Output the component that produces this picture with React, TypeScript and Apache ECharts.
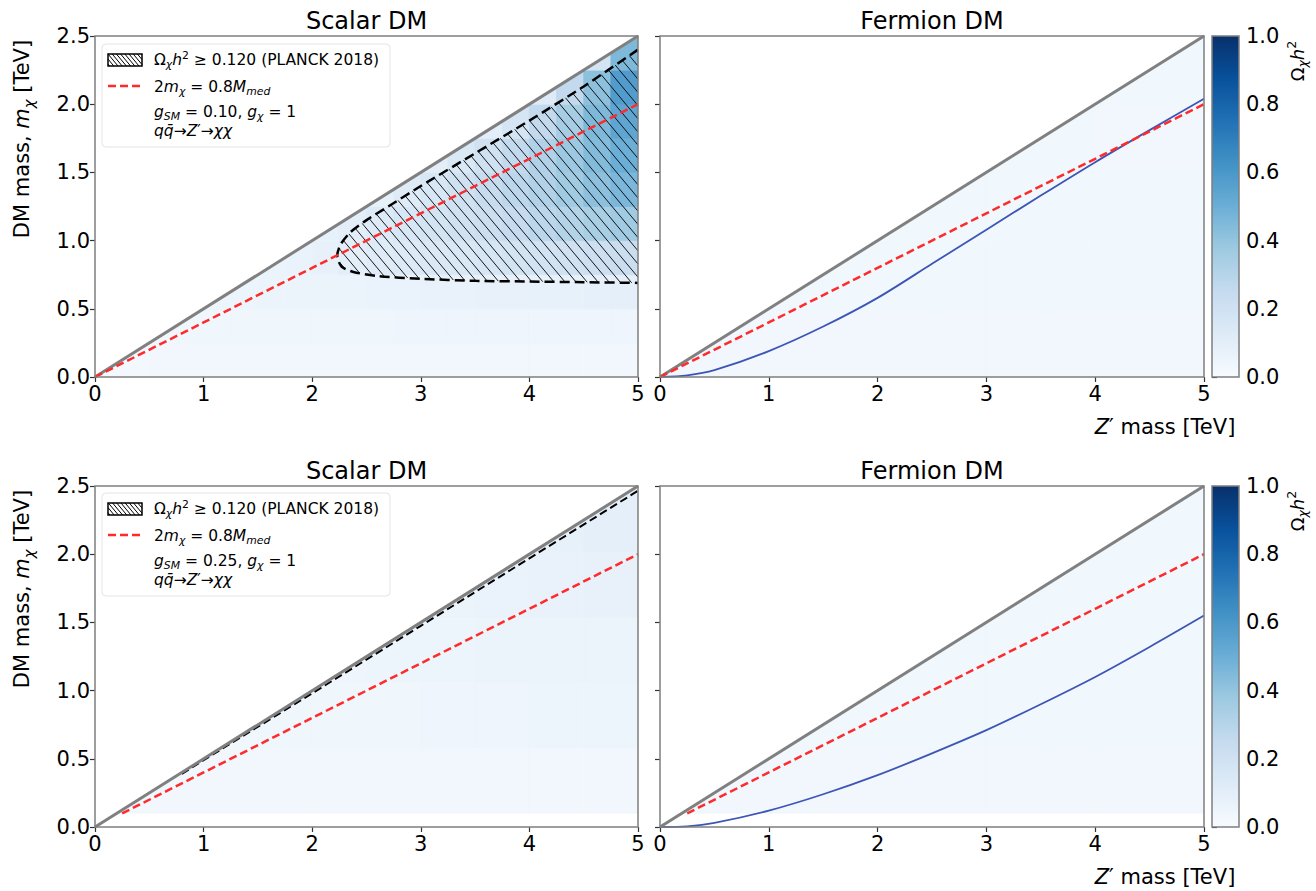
import React, { useEffect, useRef } from "react";
import * as echarts from "echarts";

// ---------------- data ----------------
const X_MIN = 0, X_MAX = 5, Y_MIN = 0, Y_MAX = 2.5;
const X_TICK_STEP = 1, Y_TICK_STEP = 0.5, CB_TICK_STEP = 0.2;

const TITLES = ["Scalar DM", "Fermion DM", "Scalar DM", "Fermion DM"];

// kinematic limit m_chi = M_med / 2 (grey)
const DIAG_LINE = [[0, 0], [5, 2.5]];
// 2 m_chi = 0.8 M_med (red dashed)
const RED_TOP = [[0, 0], [1, 0.4], [2, 0.8], [3, 1.2], [4, 1.6], [5, 2.0]];
const RED_BOTTOM = [[0.25, 0.1], [1, 0.4], [2, 0.8], [3, 1.2], [4, 1.6], [5, 2.0]];

// relic contour (black dashed) – top-left, g_SM = 0.10
const CONTOUR_TL = [
  [5.0, 2.40], [4.5, 2.13], [4.0, 1.88], [3.5, 1.64], [3.0, 1.40], [2.7, 1.25],
  [2.5, 1.15], [2.35, 1.06], [2.26, 0.97], [2.23, 0.89], [2.27, 0.81], [2.38, 0.77],
  [2.6, 0.74], [3.0, 0.72], [3.5, 0.705], [4.0, 0.70], [4.5, 0.695], [5.0, 0.69],
];
// relic contour – bottom-left, g_SM = 0.25
const CONTOUR_BL = [[0.8, 0.39], [1, 0.49], [2, 0.98], [3, 1.475], [4, 1.97], [5, 2.465]];

// blue curves (fermion panels)
const BLUE_X = [0, 0.25, 0.5, 1, 1.5, 2, 2.5, 3, 3.5, 4, 4.5, 5];
const BLUE_TR_Y = [0, 0.012, 0.05, 0.19, 0.37, 0.58, 0.83, 1.08, 1.33, 1.575, 1.81, 2.04];
const BLUE_BR_Y = [0, 0.005, 0.03, 0.12, 0.24, 0.38, 0.54, 0.71, 0.90, 1.10, 1.32, 1.55];

// Omega h^2 maps (rows from bottom to top)
const TL_HEAT = [
  [0.025, 0.025, 0.028, 0.028, 0.03, 0.03, 0.03, 0.03, 0.03, 0.03, 0.032, 0.032, 0.032, 0.032, 0.032, 0.032, 0.032, 0.032, 0.032, 0.032],
  [null, 0.035, 0.035, 0.04, 0.04, 0.04, 0.04, 0.04, 0.04, 0.042, 0.042, 0.045, 0.045, 0.045, 0.045, 0.045, 0.045, 0.045, 0.045, 0.045],
  [null, null, null, 0.045, 0.05, 0.05, 0.055, 0.055, 0.06, 0.06, 0.065, 0.065, 0.07, 0.07, 0.075, 0.075, 0.08, 0.08, 0.085, 0.09],
  [null, null, null, null, null, 0.05, 0.06, 0.065, 0.075, 0.1, 0.12, 0.13, 0.14, 0.15, 0.165, 0.18, 0.19, 0.2, 0.215, 0.23],
  [null, null, null, null, null, null, null, 0.06, 0.08, 0.1, 0.13, 0.16, 0.18, 0.2, 0.22, 0.25, 0.28, 0.31, 0.34, 0.37],
  [null, null, null, null, null, null, null, null, null, 0.06, 0.08, 0.12, 0.16, 0.2, 0.24, 0.28, 0.32, 0.37, 0.42, 0.46],
  [null, null, null, null, null, null, null, null, null, null, null, 0.06, 0.1, 0.15, 0.2, 0.26, 0.32, 0.38, 0.44, 0.5],
  [null, null, null, null, null, null, null, null, null, null, null, null, null, 0.06, 0.1, 0.17, 0.26, 0.35, 0.45, 0.54],
  [null, null, null, null, null, null, null, null, null, null, null, null, null, null, null, 0.06, 0.12, 0.26, 0.42, 0.58],
  [null, null, null, null, null, null, null, null, null, null, null, null, null, null, null, null, null, 0.06, 0.18, 0.45],
];
const TR_HEAT = [
  [0.03, 0.03, 0.03, 0.03, 0.03, 0.03, 0.03, 0.03, 0.03, 0.03],
  [0.035, 0.035, 0.035, 0.035, 0.035, 0.035, 0.035, 0.035, 0.035, 0.035],
  [0.035, 0.035, 0.035, 0.035, 0.035, 0.035, 0.035, 0.035, 0.035, 0.035],
  [0.035, 0.035, 0.035, 0.035, 0.035, 0.035, 0.035, 0.035, 0.03, 0.03],
  [0.035, 0.035, 0.035, 0.035, 0.035, 0.035, 0.035, 0.035, 0.035, 0.035],
];
const BL_HEAT = [
  [0.03, 0.03, 0.03, 0.03, 0.03, 0.03, 0.03, 0.03, 0.03, 0.03],
  [0.035, 0.035, 0.035, 0.04, 0.04, 0.04, 0.045, 0.045, 0.05, 0.05],
  [0.04, 0.04, 0.04, 0.045, 0.045, 0.05, 0.05, 0.055, 0.06, 0.06],
  [0.05, 0.05, 0.05, 0.05, 0.05, 0.055, 0.06, 0.065, 0.07, 0.075],
  [0.06, 0.06, 0.06, 0.06, 0.06, 0.06, 0.06, 0.07, 0.08, 0.09],
];
const BR_HEAT = [
  [0.03, 0.03, 0.03, 0.03, 0.03, 0.03, 0.03, 0.03, 0.03, 0.03],
  [0.035, 0.035, 0.035, 0.035, 0.035, 0.035, 0.035, 0.035, 0.035, 0.035],
  [0.035, 0.035, 0.035, 0.035, 0.035, 0.035, 0.035, 0.035, 0.035, 0.035],
  [0.035, 0.035, 0.035, 0.035, 0.035, 0.035, 0.035, 0.035, 0.035, 0.035],
  [0.035, 0.035, 0.035, 0.035, 0.035, 0.035, 0.035, 0.035, 0.035, 0.035],
];
// extents of the computed maps [xStart, xEnd, yStart, yEnd]
const TL_EXT = [0, 5, 0, 2.5];
const TR_EXT = [0, 5, 0, 2.5];
const BL_EXT = [0, 5, 0.1, 2.5];
const BR_EXT = [0, 5, 0.1, 2.5];

// ---------------- style / layout ----------------
const FONT = "DejaVu Sans";
const BLUES = ["#f7fbff", "#deebf7", "#c6dbef", "#9ecae1", "#6baed6", "#4292c6", "#2171b5", "#08519c", "#08306b"];
const PANELS = [
  { left: 95, top: 36, width: 543, height: 341 },
  { left: 660, top: 36, width: 544, height: 341 },
  { left: 95, top: 486, width: 543, height: 341 },
  { left: 660, top: 486, width: 544, height: 341 },
];
const CBARS = [
  { left: 1212, top: 36, width: 27, height: 341 },
  { left: 1212, top: 486, width: 27, height: 341 },
];
const FRAME = "#7f7f7f";

function hexToRgb(h: string) {
  return [parseInt(h.slice(1, 3), 16), parseInt(h.slice(3, 5), 16), parseInt(h.slice(5, 7), 16)];
}
function blues(v: number) {
  const t = Math.max(0, Math.min(1, v)) * (BLUES.length - 1);
  const i = Math.min(BLUES.length - 2, Math.floor(t));
  const f = t - i;
  const a = hexToRgb(BLUES[i]), b = hexToRgb(BLUES[i + 1]);
  const c = a.map((x, k) => Math.round(x + (b[k] - x) * f));
  return `rgb(${c[0]},${c[1]},${c[2]})`;
}

function buildCells(rows: (number | null)[][], ext: number[]) {
  const ny = rows.length, nx = rows[0].length;
  const dx = (ext[1] - ext[0]) / nx, dy = (ext[3] - ext[2]) / ny;
  const out: number[][] = [];
  rows.forEach((row, j) =>
    row.forEach((v, i) => {
      if (v == null) return;
      out.push([ext[0] + i * dx, ext[2] + j * dy, ext[0] + (i + 1) * dx, ext[2] + (j + 1) * dy, v]);
    })
  );
  return out;
}

function hatchSegments(pts: number[][], spacing: number, slope: number) {
  const cs = pts.map((p) => p[1] - slope * p[0]);
  const cmin = Math.min(...cs), cmax = Math.max(...cs);
  const step = spacing * slope;
  const segs: number[][][] = [];
  for (let c = Math.ceil(cmin / step) * step; c <= cmax; c += step) {
    const hits: number[][] = [];
    for (let k = 0; k < pts.length; k++) {
      const p = pts[k], q = pts[(k + 1) % pts.length];
      const fp = p[1] - slope * p[0] - c, fq = q[1] - slope * q[0] - c;
      if (fp < 0 !== fq < 0) {
        const t = fp / (fp - fq);
        hits.push([p[0] + t * (q[0] - p[0]), p[1] + t * (q[1] - p[1])]);
      }
    }
    hits.sort((a, b) => a[0] - b[0]);
    for (let k = 0; k + 1 < hits.length; k += 2) segs.push([hits[k], hits[k + 1]]);
  }
  return segs;
}

const RICH = (size: number) => ({
  m: { fontSize: size, fontFamily: FONT, fill: "#000", lineHeight: size * 1.3 },
  i: { fontSize: size, fontFamily: FONT, fontStyle: "italic", fill: "#000", lineHeight: size * 1.3 },
  si: { fontSize: size * 0.7, fontFamily: FONT, fontStyle: "italic", fill: "#000", lineHeight: size * 0.62, verticalAlign: "bottom" },
  su: { fontSize: size * 0.7, fontFamily: FONT, fill: "#000", lineHeight: size * 0.62, verticalAlign: "top" },
});

function richText(x: number, y: number, text: string, size: number, align = "left", rotation = 0) {
  return {
    type: "text", x, y, rotation, z: 120, silent: true,
    style: { text, rich: RICH(size), fontSize: size, fontFamily: FONT, fill: "#000", align, verticalAlign: "middle" },
  };
}

function legend(top: number, gsm: string) {
  const els: any[] = [];
  els.push({ type: "rect", z: 110, shape: { x: 102, y: top, width: 288, height: 103, r: 4 }, style: { fill: "rgba(255,255,255,0.85)", stroke: "#e4e4e4", lineWidth: 1 } });
  const px = 108, py = top + 10, pw = 34, ph = 12;
  const segs = hatchSegments([[px, py], [px + pw, py], [px + pw, py + ph], [px, py + ph]], 4.2, 1.2);
  segs.forEach((s) => els.push({ type: "line", z: 115, shape: { x1: s[0][0], y1: s[0][1], x2: s[1][0], y2: s[1][1] }, style: { stroke: "#000", lineWidth: 1 } }));
  els.push({ type: "rect", z: 116, shape: { x: px, y: py, width: pw, height: ph }, style: { fill: "none", stroke: "#000", lineWidth: 1.5 } });
  els.push(richText(154, top + 16, "{m|Ω}{si|χ}{i|h}{su|2}{m| ≥ 0.120 (PLANCK 2018)}", 15.5));
  els.push({ type: "line", z: 115, shape: { x1: 108, y1: top + 42, x2: 142, y2: top + 42 }, style: { stroke: "#ff2a2a", lineWidth: 2.5, lineDash: [8, 4] } });
  els.push(richText(154, top + 43, "{m|2}{i|m}{si|χ}{m| = 0.8}{i|M}{si|med}", 15.5));
  els.push(richText(154, top + 68, `{i|g}{si|SM}{m| = ${gsm}, }{i|g}{si|χ}{m| = 1}`, 15.5));
  els.push(richText(154, top + 87, "{i|qq̄}{m|→}{i|Z}{m|′→}{i|χχ}", 15.5));
  return els;
}

function lineSeries(idx: number, data: number[][], color: string, width: number, dash: any, z: number, smooth: number | boolean = false) {
  return {
    type: "line", xAxisIndex: idx, yAxisIndex: idx, data, symbol: "none", smooth, z, silent: true,
    lineStyle: { color, width, type: dash }, clip: true,
  };
}

function heatSeries(idx: number, cells: number[][]) {
  return {
    type: "custom", xAxisIndex: idx, yAxisIndex: idx, z: 1, silent: true, clip: true, data: cells,
    renderItem: (_p: any, api: any) => {
      const a = api.coord([api.value(0), api.value(1)]);
      const b = api.coord([api.value(2), api.value(3)]);
      const c = blues(api.value(4));
      return { type: "rect", shape: { x: a[0], y: b[1], width: b[0] - a[0], height: a[1] - b[1] }, style: { fill: c, stroke: c, lineWidth: 0.8 } };
    },
  };
}

function maskSeries(idx: number) {
  return {
    type: "custom", xAxisIndex: idx, yAxisIndex: idx, z: 2, silent: true, data: [[X_MIN, Y_MIN]],
    renderItem: (_p: any, api: any) => ({
      type: "polygon",
      shape: { points: [api.coord([X_MIN, Y_MIN]), api.coord([X_MAX, Y_MAX]), api.coord([X_MIN, Y_MAX])] },
      style: { fill: "#ffffff" },
    }),
  };
}

function hatchSeries(idx: number, contour: number[][]) {
  return {
    type: "custom", xAxisIndex: idx, yAxisIndex: idx, z: 3, silent: true, data: [[X_MIN, Y_MIN]],
    renderItem: (_p: any, api: any) => {
      const pts = contour.map((p) => api.coord(p));
      const segs = hatchSegments(pts, 11, 1.2);
      return {
        type: "group",
        children: segs.map((s) => ({ type: "line", shape: { x1: s[0][0], y1: s[0][1], x2: s[1][0], y2: s[1][1] }, style: { stroke: "#000", lineWidth: 0.9 } })),
      };
    },
  };
}

function cbarSeries(idx: number) {
  return {
    type: "custom", xAxisIndex: idx, yAxisIndex: idx, z: 1, silent: true, data: [[0, 0]],
    renderItem: (_p: any, api: any) => {
      const a = api.coord([0, 0]);
      const b = api.coord([1, 1]);
      return {
        type: "rect",
        shape: { x: a[0], y: b[1], width: b[0] - a[0], height: a[1] - b[1] },
        style: {
          fill: { type: "linear", x: 0, y: 1, x2: 0, y2: 0, colorStops: BLUES.map((c, k) => ({ offset: k / (BLUES.length - 1), color: c })) },
        },
      };
    },
  };
}

export default function App() {
  const ref = useRef<HTMLDivElement>(null);
  useEffect(() => {
    if (!ref.current) return;
    const chart = echarts.init(ref.current, null, { renderer: "svg" });
    const tickStyle = { show: true, length: 5, lineStyle: { color: "#333", width: 1.2 } };
    const labelBase = { fontSize: 21, color: "#000", fontFamily: FONT };
    const xAxis: any[] = PANELS.map((_, i) => ({
      type: "value", gridIndex: i, min: X_MIN, max: X_MAX, interval: X_TICK_STEP,
      axisLine: { show: false }, splitLine: { show: false }, axisTick: tickStyle,
      axisLabel: { ...labelBase, margin: 6 },
    }));
    const yAxis: any[] = PANELS.map((_, i) => ({
      type: "value", gridIndex: i, min: Y_MIN, max: Y_MAX, interval: Y_TICK_STEP,
      axisLine: { show: false }, splitLine: { show: false }, axisTick: tickStyle,
      axisLabel: { ...labelBase, margin: 5, show: i % 2 === 0, formatter: (v: number) => v.toFixed(1) },
    }));
    CBARS.forEach((_, k) => {
      xAxis.push({ type: "value", gridIndex: 4 + k, min: 0, max: 1, show: false });
      yAxis.push({
        type: "value", gridIndex: 4 + k, min: 0, max: 1, interval: CB_TICK_STEP, position: "right",
        axisLine: { show: false }, splitLine: { show: false }, axisTick: tickStyle,
        axisLabel: { ...labelBase, margin: 7, formatter: (v: number) => v.toFixed(1) },
      });
    });
    const grid = [...PANELS, ...CBARS].map((g) => ({ ...g, containLabel: false }));

    const series: any[] = [
      heatSeries(0, buildCells(TL_HEAT, TL_EXT)),
      heatSeries(1, buildCells(TR_HEAT, TR_EXT)),
      heatSeries(2, buildCells(BL_HEAT, BL_EXT)),
      heatSeries(3, buildCells(BR_HEAT, BR_EXT)),
      maskSeries(0), maskSeries(1), maskSeries(2), maskSeries(3),
      hatchSeries(0, CONTOUR_TL),
      lineSeries(0, CONTOUR_TL, "#000", 2.5, [10, 5], 5, 0.25),
      lineSeries(2, CONTOUR_BL, "#000", 2, [8, 4], 5),
      lineSeries(1, BLUE_X.map((x, k) => [x, BLUE_TR_Y[k]]), "#3d55b5", 1.8, "solid", 5, 0.3),
      lineSeries(3, BLUE_X.map((x, k) => [x, BLUE_BR_Y[k]]), "#3d55b5", 1.8, "solid", 5, 0.3),
      ...[0, 1, 2, 3].map((i) => lineSeries(i, DIAG_LINE, "#808080", 3, "solid", 6)),
      lineSeries(0, RED_TOP, "#ff2a2a", 2.5, [8, 4], 7),
      lineSeries(1, RED_TOP, "#ff2a2a", 2.5, [8, 4], 7),
      lineSeries(2, RED_BOTTOM, "#ff2a2a", 2.5, [8, 4], 7),
      lineSeries(3, RED_BOTTOM, "#ff2a2a", 2.5, [8, 4], 7),
      cbarSeries(4), cbarSeries(5),
    ];

    const graphic: any[] = [];
    [...PANELS, ...CBARS].forEach((g) =>
      graphic.push({ type: "rect", z: 100, silent: true, shape: { x: g.left, y: g.top, width: g.width, height: g.height }, style: { fill: "none", stroke: FRAME, lineWidth: 1.5 } })
    );
    PANELS.forEach((g, i) =>
      graphic.push({ type: "text", z: 120, silent: true, x: g.left + g.width / 2, y: g.top - 15, style: { text: TITLES[i], fontSize: 24, fontFamily: FONT, fill: "#000", align: "center", verticalAlign: "middle" } })
    );
    [PANELS[0], PANELS[2]].forEach((g) => graphic.push(richText(22, g.top + 103, "{m|DM mass, }{i|m}{si|χ}{m| [TeV]}", 21, "center", Math.PI / 2)));
    [PANELS[1], PANELS[3]].forEach((g) => graphic.push(richText(1165, g.top + g.height + 50, "{i|Z}{m|′ mass [TeV]}", 21, "center")));
    CBARS.forEach((g) => graphic.push(richText(1297, g.top + 25, "{m|Ω}{si|χ}{i|h}{su|2}", 18, "center", Math.PI / 2)));
    graphic.push(...legend(44, "0.10"));
    graphic.push(...legend(493, "0.25"));

    chart.setOption({
      animation: false,
      textStyle: { fontFamily: FONT },
      grid, xAxis, yAxis, series, graphic,
    });
    return () => chart.dispose();
  }, []);
  return <div ref={ref} style={{ position: "absolute", left: 0, top: 0, width: 1316, height: 891, background: "#fff" }} />;
}
